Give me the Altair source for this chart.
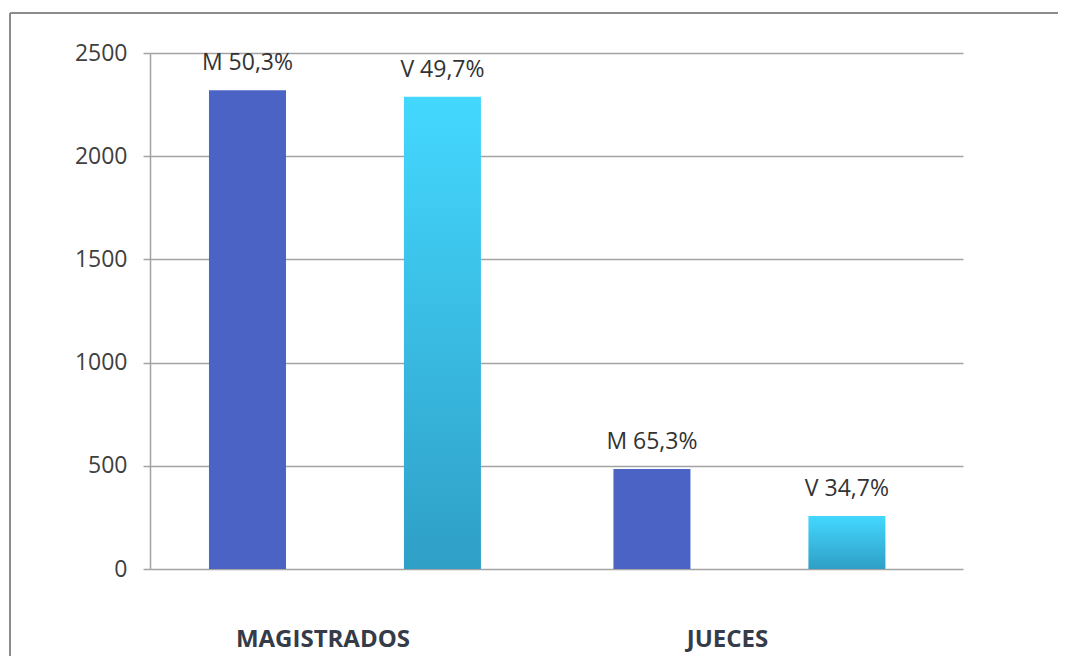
import altair as alt
import pandas as pd

categorias = ["MAGISTRADOS", "MAGISTRADOS", "JUECES", "JUECES"]
sexo = ["M", "V", "M", "V"]
valores = [2320, 2288, 484, 257]
porcentajes = ["50,3%", "49,7%", "65,3%", "34,7%"]
ticks_y = [0, 500, 1000, 1500, 2000, 2500]

df = pd.DataFrame({"categoria": categorias, "sexo": sexo, "valor": valores, "pct": porcentajes})
df["etiqueta"] = df["sexo"] + " " + df["pct"]

W, H = 813, 516
PAD = {"left": 142, "top": 45, "right": 95, "bottom": 87}
FONT = "Open Sans"

x = alt.X(
    "categoria:N",
    title=None,
    scale=alt.Scale(domain=["MAGISTRADOS", "JUECES"], paddingInner=0.036, paddingOuter=0.023, align=0),
    axis=alt.Axis(
        labelAngle=0, domain=False, ticks=False, labelPadding=58, labelLimit=0,
        labelFont=FONT, labelFontWeight="bold", labelFontSize=24,
        labelColor="#353b48", labelOffset=-22,
    ),
)
xo = alt.XOffset("sexo:N", scale=alt.Scale(domain=["M", "V"], paddingInner=0.605, paddingOuter=0.3025))
y = alt.Y(
    "valor:Q",
    title=None,
    scale=alt.Scale(domain=[0, 2500], nice=False),
    axis=alt.Axis(
        values=ticks_y, format="d", grid=True, gridColor="#a3a3a3", gridWidth=1.5,
        domain=True, domainColor="#a3a3a3", domainWidth=1.5,
        ticks=True, tickSize=7, tickColor="#a3a3a3", tickWidth=1.5,
        labelPadding=16, labelFont=FONT, labelFontSize=23, labelColor="#404040",
    ),
)

base = alt.Chart(df)

bars_m = base.transform_filter(alt.datum.sexo == "M").mark_bar(color="#4a63c5").encode(x=x, xOffset=xo, y=y)

grad = alt.Gradient(
    gradient="linear",
    stops=[alt.GradientStop(color="#44d8ff", offset=0), alt.GradientStop(color="#2f9fc6", offset=1)],
    x1=1, x2=1, y1=0, y2=1,
)
bars_v = base.transform_filter(alt.datum.sexo == "V").mark_bar(color=grad).encode(x=x, xOffset=xo, y=y)

labels = base.mark_text(
    font=FONT, fontSize=23, color="#333333", baseline="alphabetic", dy=-20
).encode(x=x, xOffset=xo, y=y, text="etiqueta:N")

frame_df = pd.DataFrame({"k": [0]})
frame_v = alt.Chart(frame_df).mark_rule(color="#8c8c8c", strokeWidth=2).encode(
    x=alt.value(-140), y=alt.value(-40), y2=alt.value(H + PAD["bottom"])
)
frame_h = alt.Chart(frame_df).mark_rule(color="#8c8c8c", strokeWidth=2).encode(
    x=alt.value(-140), x2=alt.value(W + PAD["right"]), y=alt.value(-40)
)

chart = (
    alt.layer(frame_v, frame_h, bars_m, bars_v, labels)
    .properties(
        width=W, height=H,
        autosize=alt.AutoSizeParams(type="none"),
        padding=PAD,
        background="white",
    )
    .configure_view(strokeWidth=0)
)

chart.save("out.html", embed_options={"renderer": "svg", "actions": False})
